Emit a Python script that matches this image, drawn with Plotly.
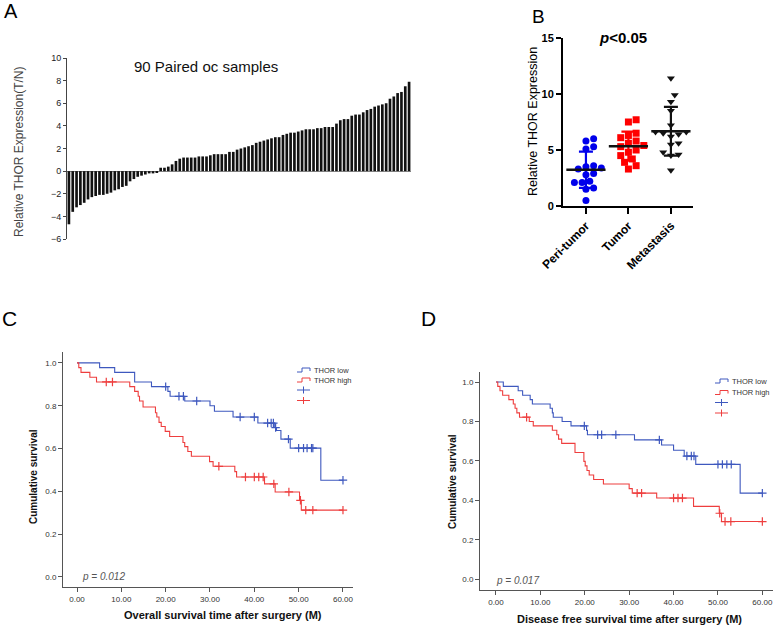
import plotly.graph_objects as go
import numpy as np

W, H = 778, 626
FONT = "Liberation Sans"


def px(x):
    return x / W


def py(y):
    return 1 - y / H

# ---------------- Panel A data ----------------
a_values = [-4.7, -3.6, -3.2, -3.0, -2.8, -2.5, -2.3, -2.2, -2.1, -2.1, -2.0, -1.9,
            -1.7, -1.6, -1.4, -1.3, -0.9, -0.7, -0.5, -0.4, -0.3, -0.2, -0.2, -0.1,
            0.3, 0.3, 0.4, 0.6, 0.9, 1.1, 1.2, 1.2, 1.2, 1.2, 1.3, 1.3, 1.3, 1.4, 1.5,
            1.5, 1.5, 1.5, 1.7, 1.7, 1.9, 2.0, 2.1, 2.2, 2.3, 2.5, 2.6, 2.7, 2.8, 2.9,
            3.0, 3.0, 3.2, 3.3, 3.4, 3.4, 3.5, 3.6, 3.7, 3.7, 3.7, 3.8, 3.8, 3.9, 3.9,
            3.9, 4.2, 4.5, 4.6, 4.6, 4.9, 5.0, 5.0, 5.2, 5.4, 5.5, 5.7, 5.8, 5.9, 6.0,
            6.4, 6.6, 6.9, 7.0, 7.5, 7.9]
a_ticks = [-6, -4, -2, 0, 2, 4, 6, 8, 10]

# ---------------- Panel B data ----------------
b_groups = ["Peri-tumor", "Tumor", "Metastasis"]
b_peri = [6.0, 5.8, 5.3, 5.1, 3.6, 3.5, 3.4, 3.3, 2.9, 2.8, 2.2, 2.1, 2.1, 1.6, 1.5, 0.5]
b_tumor = [7.7, 7.5, 6.5, 6.3, 6.1, 5.8, 5.6, 5.4, 5.3, 5.0, 4.8, 4.5, 4.2, 3.9, 3.6, 3.3]
b_meta = [11.4, 9.9, 9.3, 8.5, 7.2, 6.6, 6.6, 6.5, 6.4, 6.2, 5.6, 5.5, 4.8, 4.6, 4.5, 3.2]

# ---------------- Panel C data (overall survival) ----------------
c_low_t = [5.1, 8.5, 13.0, 16.8, 20.5, 21.0, 24.3, 30.0, 31.0, 35.2, 40.8, 44.6, 45.0, 46.0, 48.1, 55.0]
c_low_s = [0.978, 0.956, 0.911, 0.889, 0.867, 0.844, 0.822, 0.800, 0.774, 0.747, 0.719, 0.698,
           0.684, 0.644, 0.602, 0.452]
c_low_cens = [20.0, 23.0, 24.0, 27.0, 36.8, 40.0, 43.0, 43.8, 44.3, 44.8, 47.7, 50.0, 51.1, 51.9,
              52.9, 53.2, 60.0]
c_high_t = [0.4, 0.9, 2.9, 4.4, 11.9, 13.0, 13.8, 14.1, 14.9, 17.7, 18.0, 18.5, 19.0, 19.9, 20.9,
            23.9, 24.3, 25.0, 25.8, 29.9, 30.7, 35.6, 36.0, 42.3, 44.7, 50.2, 50.6]
c_high_s = [0.978, 0.956, 0.933, 0.911, 0.889, 0.867, 0.844, 0.822, 0.794, 0.767, 0.747, 0.722,
            0.703, 0.680, 0.656, 0.628, 0.609, 0.586, 0.564, 0.539, 0.517, 0.492, 0.467, 0.435,
            0.397, 0.358, 0.312]
c_high_cens = [6.6, 8.0, 32.0, 38.0, 40.0, 41.0, 42.0, 44.4, 47.8, 50.4, 51.6, 53.2, 60.0]

# ---------------- Panel D data (disease free survival) ----------------
d_low_t = [1.65, 5.0, 6.0, 7.7, 8.2, 12.2, 12.7, 12.9, 14.9, 16.9, 20.4, 20.6, 31.2, 37.3, 40.0,
           42.4, 45.0, 55.0]
d_low_s = [0.978, 0.956, 0.933, 0.911, 0.889, 0.867, 0.844, 0.822, 0.800, 0.778, 0.755, 0.733,
           0.707, 0.681, 0.654, 0.625, 0.583, 0.437]
d_low_cens = [19.9, 22.9, 23.8, 27.0, 36.8, 43.0, 44.0, 44.6, 50.0, 51.0, 52.0, 53.0, 60.0]
d_high_t = [0.4, 0.9, 1.5, 2.9, 3.9, 4.3, 4.7, 5.3, 7.5, 8.4, 12.7, 13.7, 14.1, 14.8, 17.8, 19.8,
            20.1, 20.5, 21.0, 22.0, 24.2, 30.0, 30.7, 36.2, 44.5, 50.3, 50.8]
d_high_s = [0.978, 0.956, 0.933, 0.911, 0.889, 0.867, 0.844, 0.822, 0.800, 0.778, 0.756, 0.733,
            0.711, 0.689, 0.643, 0.598, 0.575, 0.552, 0.529, 0.506, 0.483, 0.460, 0.437, 0.412,
            0.370, 0.335, 0.293]
d_high_cens = [6.9, 31.8, 32.8, 40.0, 41.0, 42.0, 50.4, 51.6, 52.9, 60.0]

BLUE_KM = "rgb(62,88,190)"
RED_KM = "rgb(238,62,62)"

fig = go.Figure()

# ---------------- Panel A ----------------
fig.add_trace(go.Bar(x=list(range(1, len(a_values) + 1)), y=a_values, marker_color="#111111",
                     marker_line_width=0, xaxis="x", yaxis="y", showlegend=False))

# ---------------- Panel B ----------------
B_XPX = 42.5   # px per category unit
B_YPX = 11.2   # px per y unit


def beeswarm(vals, diam=7.0, step=7.0):
    order = np.argsort(vals)
    placed = []
    offs = np.zeros(len(vals))
    for i in order:
        yv = vals[i] * B_YPX
        xo = 0.0
        for k in [0, 1, -1, 2, -2, 3, -3, 4, -4]:
            xo = k * step * 0.55
            ok = all((xo - px_) ** 2 + (yv - py_) ** 2 >= diam ** 2 for px_, py_ in placed)
            if ok:
                break
        placed.append((xo, yv))
        offs[i] = xo / B_XPX
    return offs


b_sets = [
    (b_peri, "rgb(0,0,235)", "circle", 7, "rgb(0,0,235)", "#111111"),
    (b_tumor, "rgb(255,0,0)", "square", 7, "rgb(255,0,0)", "#111111"),
    (b_meta, "#111111", "triangle-down", 7, "#111111", "#111111"),
]
for gi, (vals, col, sym, size, errcol, meancol) in enumerate(b_sets):
    v = np.array(vals)
    offs = beeswarm(v)
    fig.add_trace(go.Scatter(x=gi + offs, y=v, mode="markers", xaxis="x2", yaxis="y2",
                             marker=dict(color=col, symbol=sym, size=size, line_width=0),
                             showlegend=False))
    m = v.mean()
    sd = v.std(ddof=1)
    fig.add_trace(go.Scatter(x=[gi], y=[m], mode="markers", xaxis="x2", yaxis="y2",
                             marker=dict(symbol="line-ew-open", size=28, color=meancol,
                                         line=dict(color=meancol, width=2.5)),
                             error_y=dict(type="data", array=[sd], color=errcol, thickness=2.2,
                                          width=7),
                             showlegend=False))

# ---------------- Panels C & D ----------------


def km(t, s, cens, color, xa, ya):
    xs = [0.0] + list(t) + [60.0]
    ys = [1.0] + list(s) + [s[-1]]
    fig.add_trace(go.Scatter(x=xs, y=ys, mode="lines", line=dict(color=color, width=1.1, shape="hv"),
                             xaxis=xa, yaxis=ya, showlegend=False))
    tt = np.array(t)
    ss = np.array([1.0] + list(s))
    cy = [ss[np.searchsorted(tt, c, side="right")] for c in cens]
    fig.add_trace(go.Scatter(x=cens, y=cy, mode="markers", xaxis=xa, yaxis=ya, showlegend=False,
                             marker=dict(symbol="cross-thin-open", size=6, color=color,
                                         line=dict(color=color, width=1.2))))


km(c_low_t, c_low_s, c_low_cens, BLUE_KM, "x3", "y3")
km(c_high_t, c_high_s, c_high_cens, RED_KM, "x3", "y3")
km(d_low_t, d_low_s, d_low_cens, BLUE_KM, "x4", "y4")
km(d_high_t, d_high_s, d_high_cens, RED_KM, "x4", "y4")

# ---------------- Layout ----------------
A_TICKFONT = dict(family=FONT, size=9, color="#222222")
KM_TICKFONT = dict(family=FONT, size=8, color="#333333")

layout = dict(
    template="none",
    width=W, height=H, margin=dict(l=0, r=0, t=0, b=0, pad=0, autoexpand=False),
    paper_bgcolor="white", plot_bgcolor="white", showlegend=False,
    bargap=0.3,
    # A
    xaxis=dict(domain=[px(67), px(411)], range=[0.5, len(a_values) + 0.5], anchor="y",
               automargin=False,
               showline=False, showticklabels=False, ticks="", showgrid=False, zeroline=False),
    yaxis=dict(domain=[py(239), py(58)], range=[-6, 10], tickvals=a_ticks, anchor="x",
               automargin=False,
               showline=True, linecolor="#444444", linewidth=1, ticks="outside", ticklen=3,
               tickcolor="#444444", tickfont=A_TICKFONT, showgrid=False, zeroline=True,
               zerolinecolor="#888888", zerolinewidth=1),
    # B
    xaxis2=dict(domain=[px(563), px(693)], range=[-0.54, 2.52], tickvals=[0, 1, 2], anchor="y2",
                automargin=False,
                ticktext=b_groups, tickangle=-45, showline=True, linecolor="black", linewidth=2,
                ticks="outside", ticklen=6, tickwidth=2, tickcolor="black", showgrid=False,
                zeroline=False,
                tickfont=dict(family=FONT, size=12, color="black", weight="bold")),
    yaxis2=dict(domain=[py(206), py(38)], range=[0, 15], tickvals=[0, 5, 10, 15], anchor="x2",
                automargin=False,
                showline=True, linecolor="black", linewidth=2, ticks="outside", ticklen=5,
                tickwidth=2, tickcolor="black", showgrid=False, zeroline=False,
                tickfont=dict(family=FONT, size=11, color="black", weight="bold")),
    # C
    xaxis3=dict(domain=[px(63), px(353)], range=[-3.16, 62.26], tickvals=[0, 10, 20, 30, 40, 50, 60],
                anchor="y3", automargin=False, tickformat=".2f", showline=True,
                linecolor="#555555", linewidth=1,
                ticks="outside", ticklen=4, tickcolor="#555555", tickfont=KM_TICKFONT,
                showgrid=False, zeroline=False),
    yaxis3=dict(domain=[py(587), py(352)], range=[-0.047, 1.051], tickvals=[0, 0.2, 0.4, 0.6, 0.8, 1.0],
                anchor="x3", automargin=False, tickformat=".1f", showline=True,
                linecolor="#555555", linewidth=1,
                ticks="outside", ticklen=4, tickcolor="#555555", tickfont=KM_TICKFONT,
                showgrid=False, zeroline=False),
    # D
    xaxis4=dict(domain=[px(480), px(773)], range=[-3.6, 62.4], tickvals=[0, 10, 20, 30, 40, 50, 60],
                anchor="y4", automargin=False, tickformat=".2f", showline=True,
                linecolor="#555555", linewidth=1,
                ticks="outside", ticklen=4, tickcolor="#555555", tickfont=KM_TICKFONT,
                showgrid=False, zeroline=False),
    yaxis4=dict(domain=[py(590), py(372)], range=[-0.054, 1.051], tickvals=[0, 0.2, 0.4, 0.6, 0.8, 1.0],
                anchor="x4", automargin=False, tickformat=".1f", showline=True,
                linecolor="#555555", linewidth=1,
                ticks="outside", ticklen=4, tickcolor="#555555", tickfont=KM_TICKFONT,
                showgrid=False, zeroline=False),
)
fig.update_layout(**layout)


def ann(text, x, y, size, color="black", angle=0, bold=False, italic=False):
    fig.add_annotation(text=text, x=px(x), y=py(y), xref="paper", yref="paper", showarrow=False,
                       xanchor="center", yanchor="middle", textangle=angle,
                       font=dict(family=FONT, size=size, color=color,
                                 weight="bold" if bold else "normal",
                                 style="italic" if italic else "normal"))


# panel letters
ann("A", 11, 11, 20)
ann("B", 538, 16, 19)
ann("C", 9, 318, 21)
ann("D", 428, 318, 21)

# Panel A texts
ann("90 Paired oc samples", 206, 66, 15, color="#111111")
ann("Relative THOR Expression(T/N)", 19, 152, 12, color="#444444", angle=-90)

# Panel B texts
ann("<b><i>p</i>&lt;0.05</b>", 623, 37, 15)
ann("Relative THOR Expression", 533, 122, 12.5, angle=-90)

# Panel C texts
ann("Overall survival time after surgery (M)", 223, 615, 11, color="#111111", bold=True)
ann("Cumulative survival", 33, 477, 10, color="#111111", bold=True, angle=-90)
ann("p = 0.012", 103, 576, 10, color="#555555", italic=True)

# Panel D texts
ann("Disease free survival time after surgery (M)", 629, 619, 11, color="#111111", bold=True)
ann("Cumulative survival", 452, 482, 10, color="#111111", bold=True, angle=-90)
ann("p = 0.017", 517, 580, 10, color="#555555", italic=True)


# Manual KM legends
def legend(x0, ys, labels):
    x1 = x0 + 13
    items = [(BLUE_KM, "step"), (RED_KM, "step"), (BLUE_KM, "cens"), (RED_KM, "cens")]
    for (col, kind), y, lab in zip(items, ys, labels):
        if kind == "step":
            xm = x0 + 5
            path = "M {a},{b} L {c},{b} L {c},{d} L {e},{d} L {e},{f}".format(
                a=px(x0), b=py(y + 2), c=px(xm), d=py(y - 2), e=px(x1), f=py(y + 1))
            fig.add_shape(type="path", path=path, xref="paper", yref="paper",
                          line=dict(color=col, width=1))
        else:
            fig.add_shape(type="line", x0=px(x0), x1=px(x1), y0=py(y), y1=py(y), xref="paper",
                          yref="paper", line=dict(color=col, width=1))
            fig.add_shape(type="line", x0=px(x0 + 6.5), x1=px(x0 + 6.5), y0=py(y - 3.5),
                          y1=py(y + 3.5), xref="paper", yref="paper", line=dict(color=col, width=1))
        if lab:
            fig.add_annotation(text=lab, x=px(x1 + 1.5), y=py(y), xref="paper", yref="paper",
                               showarrow=False, xanchor="left", yanchor="middle",
                               font=dict(family=FONT, size=7.5, color="#333333"))


legend(297, [370, 380, 390, 400.5], ["THOR low", "THOR high", "", ""])
legend(715, [381, 392.5, 402.5, 413], ["THOR low", "THOR high", "", ""])

fig.write_html("out.html", config={"displayModeBar": False},
               post_script="document.body.style.margin='0';document.body.style.overflow='hidden';")
